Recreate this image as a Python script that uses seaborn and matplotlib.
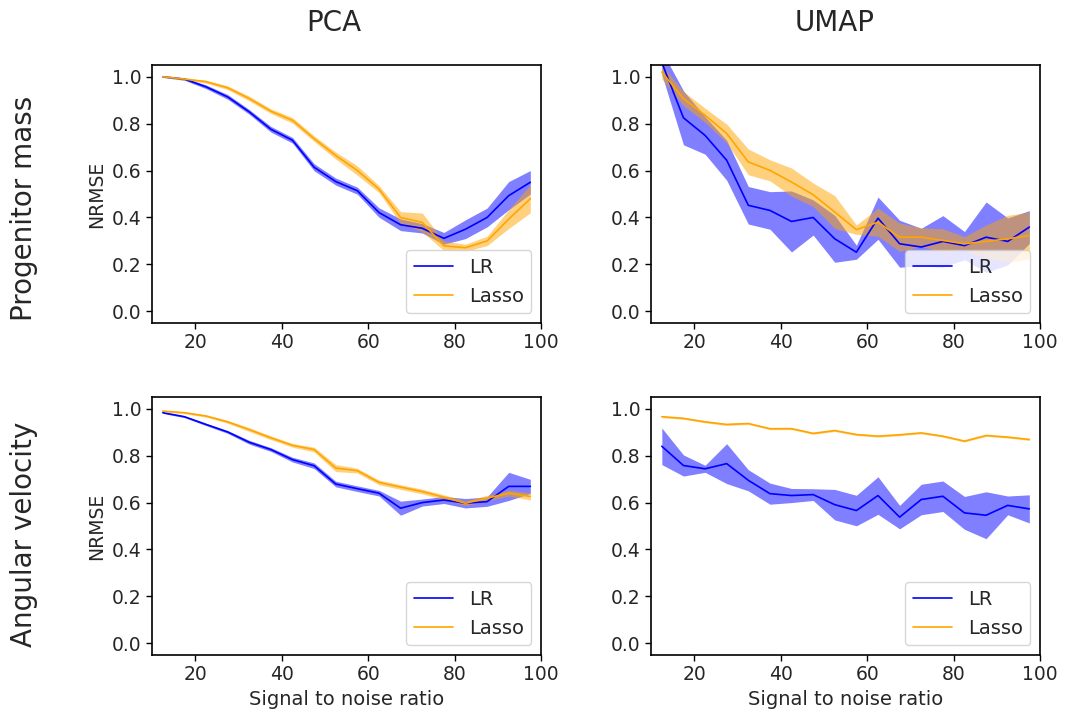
import numpy as np
import pandas as pd
import seaborn as sns
import matplotlib
matplotlib.use("Agg")
import matplotlib.pyplot as plt

sns.set_style("white")
plt.rcParams['font.family'] = ['DejaVu Sans']

# signal to noise ratio bins
snr = [12.5, 17.5, 22.5, 27.5, 32.5, 37.5, 42.5, 47.5, 52.5, 57.5,
       62.5, 67.5, 72.5, 77.5, 82.5, 87.5, 92.5, 97.5]

# Progenitor mass, PCA
pm_pca_lr = [1.00, 0.99, 0.957, 0.914, 0.85, 0.776, 0.729, 0.614, 0.553, 0.514,
             0.421, 0.369, 0.354, 0.311, 0.35, 0.40, 0.493, 0.55]
pm_pca_lr_sd = [0.003, 0.005, 0.008, 0.01, 0.01, 0.012, 0.012, 0.015, 0.015, 0.015,
                0.02, 0.025, 0.02, 0.025, 0.04, 0.04, 0.06, 0.05]
pm_pca_lasso = [1.00, 0.99, 0.979, 0.953, 0.907, 0.853, 0.814, 0.736, 0.664, 0.60,
                0.521, 0.40, 0.379, 0.279, 0.271, 0.30, 0.393, 0.48]
pm_pca_lasso_sd = [0.003, 0.005, 0.006, 0.008, 0.01, 0.01, 0.012, 0.012, 0.015, 0.02,
                   0.015, 0.025, 0.04, 0.02, 0.015, 0.02, 0.04, 0.06]

# Progenitor mass, UMAP
pm_umap_lr = [1.06, 0.825, 0.75, 0.644, 0.452, 0.43, 0.383, 0.40, 0.309, 0.252,
              0.397, 0.288, 0.274, 0.298, 0.28, 0.316, 0.298, 0.359]
pm_umap_lr_sd = [0.05, 0.115, 0.08, 0.085, 0.08, 0.08, 0.13, 0.075, 0.10, 0.03,
                 0.09, 0.10, 0.08, 0.11, 0.06, 0.15, 0.10, 0.07]
pm_umap_lasso = [1.02, 0.907, 0.836, 0.758, 0.637, 0.601, 0.551, 0.497, 0.423, 0.348,
                 0.38, 0.316, 0.316, 0.302, 0.288, 0.298, 0.309, 0.323]
pm_umap_lasso_sd = [0.03, 0.03, 0.03, 0.04, 0.055, 0.045, 0.06, 0.05, 0.07, 0.02,
                    0.06, 0.06, 0.04, 0.05, 0.03, 0.07, 0.10, 0.10]

# Angular velocity, PCA
av_pca_lr = [0.983, 0.966, 0.933, 0.901, 0.857, 0.826, 0.783, 0.757, 0.679, 0.659,
             0.64, 0.576, 0.60, 0.611, 0.597, 0.604, 0.669, 0.669]
av_pca_lr_sd = [0.003, 0.004, 0.005, 0.006, 0.008, 0.008, 0.01, 0.012, 0.012, 0.012,
                0.012, 0.03, 0.015, 0.015, 0.02, 0.02, 0.06, 0.03]
av_pca_lasso = [0.99, 0.983, 0.969, 0.944, 0.911, 0.876, 0.844, 0.826, 0.747, 0.736,
                0.686, 0.666, 0.647, 0.623, 0.597, 0.619, 0.64, 0.626]
av_pca_lasso_sd = [0.003, 0.004, 0.005, 0.006, 0.008, 0.008, 0.008, 0.01, 0.015, 0.01,
                   0.01, 0.01, 0.01, 0.01, 0.01, 0.012, 0.012, 0.015]

# Angular velocity, UMAP
av_umap_lr = [0.84, 0.758, 0.744, 0.766, 0.695, 0.638, 0.63, 0.634, 0.591, 0.566,
              0.63, 0.538, 0.613, 0.627, 0.556, 0.546, 0.588, 0.573]
av_umap_lr_sd = [0.078, 0.045, 0.015, 0.085, 0.045, 0.045, 0.03, 0.025, 0.065, 0.065,
                 0.08, 0.05, 0.065, 0.065, 0.07, 0.10, 0.04, 0.06]
av_umap_lasso = [0.966, 0.959, 0.944, 0.933, 0.937, 0.915, 0.915, 0.895, 0.907, 0.89,
                 0.883, 0.889, 0.897, 0.883, 0.862, 0.886, 0.879, 0.869]
av_umap_lasso_sd = [0.004] * 18

panels = [
    [(pm_pca_lr, pm_pca_lr_sd, pm_pca_lasso, pm_pca_lasso_sd),
     (pm_umap_lr, pm_umap_lr_sd, pm_umap_lasso, pm_umap_lasso_sd)],
    [(av_pca_lr, av_pca_lr_sd, av_pca_lasso, av_pca_lasso_sd),
     (av_umap_lr, av_umap_lr_sd, av_umap_lasso, av_umap_lasso_sd)],
]
col_titles = ["PCA", "UMAP"]
row_titles = ["Progenitor mass", "Angular velocity"]

fig = plt.figure(figsize=(10.69, 7.12), dpi=100)
lefts = [0.1422, 0.609]
bottoms = [0.5463, 0.080]

for r in range(2):
    for c in range(2):
        ax = fig.add_axes([lefts[c], bottoms[r], 0.364, 0.3624])
        lr, lr_sd, la, la_sd = panels[r][c]
        lr = np.array(lr); lr_sd = np.array(lr_sd)
        la = np.array(la); la_sd = np.array(la_sd)
        ax.fill_between(snr, lr - lr_sd, lr + lr_sd, color="blue", alpha=0.5, lw=0)
        ax.fill_between(snr, la - la_sd, la + la_sd, color="orange", alpha=0.5, lw=0)
        df = pd.DataFrame({"snr": snr * 2,
                           "nrmse": list(lr) + list(la),
                           "model": ["LR"] * 18 + ["Lasso"] * 18})
        sns.lineplot(data=df, x="snr", y="nrmse", hue="model",
                     palette={"LR": "blue", "Lasso": "orange"}, lw=1.2, ax=ax)
        ax.set_xlim(10, 100)
        ax.set_ylim(-0.05, 1.05)
        ax.set_xticks([20, 40, 60, 80, 100])
        ax.set_yticks([0.0, 0.2, 0.4, 0.6, 0.8, 1.0])
        ax.tick_params(labelsize=13.5, direction="out", length=4, width=1,
                       bottom=True, left=True, color="black")
        for s in ax.spines.values():
            s.set_color("black")
            s.set_linewidth(1.2)
        ax.legend(loc="lower right", fontsize=14, title=None)
        ax.set_ylabel("NRMSE" if c == 0 else "", fontsize=13.5)
        ax.set_xlabel("Signal to noise ratio" if r == 1 else "", fontsize=14)

for c, t in enumerate(col_titles):
    fig.text([0.3125, 0.781][c], 0.968, t, fontsize=20, ha="center", va="center")
for r, t in enumerate(row_titles):
    fig.text(0.0225, [0.708, 0.249][r], t, fontsize=20, rotation=90,
             ha="center", va="center")

fig.savefig("out.png", dpi=100)
